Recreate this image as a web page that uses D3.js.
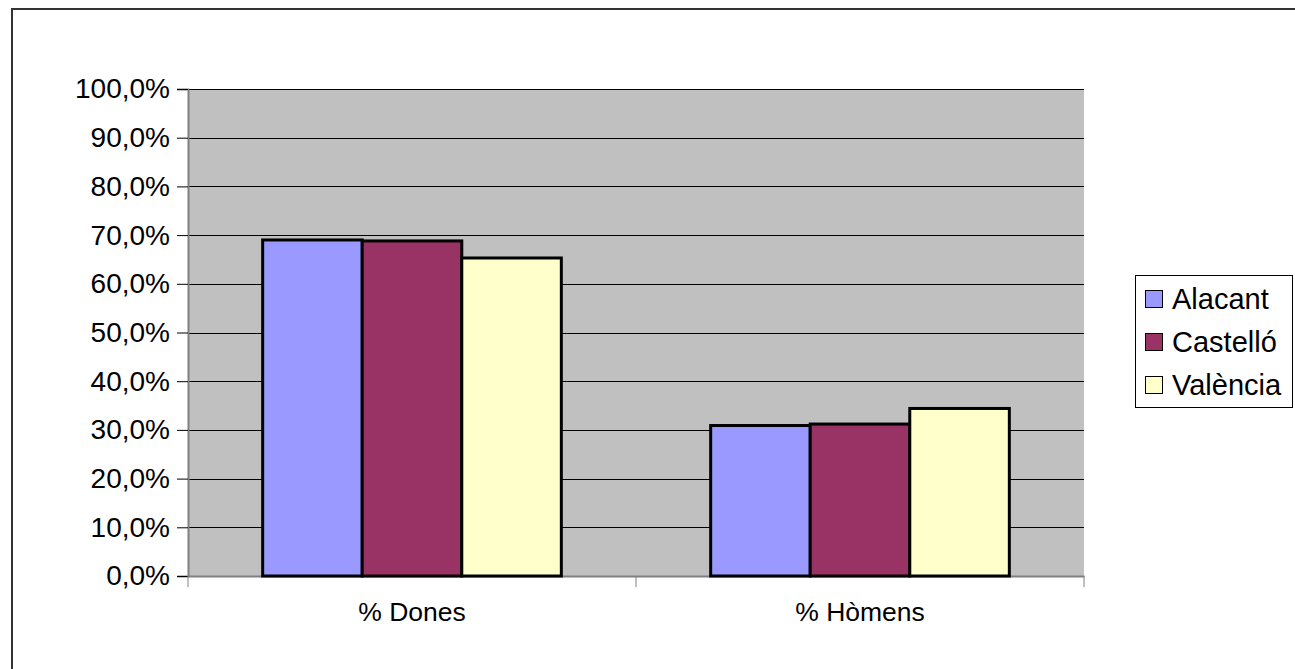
<!DOCTYPE html>
<html>
<head>
<meta charset="utf-8">
<script src="https://cdn.jsdelivr.net/npm/d3@7"></script>
<style>
	body { margin: 0; background: #fff; }
	svg { display: block; font-family: "Liberation Sans", Arial, sans-serif; }
</style>
</head>
<body>
<div id="chart"></div>
<script>
// data
const categories = ["% Dones", "% Hòmens"];
const seriesNames = ["Alacant", "Castelló", "València"];
const alacant = [0.690, 0.309];
const castello = [0.688, 0.312];
const valencia = [0.653, 0.344];
const yTicks = [0, 0.1, 0.2, 0.3, 0.4, 0.5, 0.6, 0.7, 0.8, 0.9, 1.0];
const colors = ["#9999FF", "#993366", "#FFFFCC"];

const seriesValues = [alacant, castello, valencia];

const W = 1295, H = 669;
const margin = { top: 89, right: 211, bottom: 93, left: 188 };
const width = W - margin.left - margin.right;
const height = H - margin.top - margin.bottom;

const svg = d3.select("#chart").append("svg")
	.attr("width", W)
	.attr("height", H);

// outer chart border
svg.append("rect")
	.attr("x", 12).attr("y", 9)
	.attr("width", W).attr("height", H)
	.attr("fill", "#fff")
	.attr("stroke", "#333")
	.attr("stroke-width", 2);

const g = svg.append("g")
	.attr("transform", "translate(" + margin.left + "," + margin.top + ")");

const x0 = d3.scaleBand().domain(categories).range([0, width]).paddingInner(0).paddingOuter(0);
const x1 = d3.scaleBand().domain(seriesNames).range([0, x0.bandwidth()]).paddingInner(0).paddingOuter(0.75);
const y = d3.scaleLinear().domain([0, 1]).range([height, 0]);

g.append("rect")
	.attr("width", width).attr("height", height)
	.attr("fill", "#C0C0C0");

// gridlines
g.append("g")
	.selectAll("line")
	.data(yTicks.slice(1))
	.join("line")
	.attr("x1", 0).attr("x2", width)
	.attr("y1", d => Math.round(y(d)) + 0.5)
	.attr("y2", d => Math.round(y(d)) + 0.5)
	.attr("stroke", "#000")
	.attr("stroke-width", 1);

// y axis
const fmt = d => d3.format(".1f")(d * 100).replace(".", ",") + "%";
const yAxis = g.append("g")
	.call(d3.axisLeft(y).tickValues(yTicks).tickFormat(fmt).tickSize(11).tickPadding(7));
yAxis.select(".domain").attr("stroke", "#808080").attr("stroke-width", 2);
yAxis.selectAll(".tick line").attr("stroke", "#000");
yAxis.selectAll(".tick text")
	.attr("font-size", 28)
	.attr("fill", "#000");

// x axis
const xAxis = g.append("g")
	.attr("transform", "translate(0," + height + ")")
	.call(d3.axisBottom(x0).tickSize(0).tickPadding(26));
xAxis.select(".domain").attr("stroke", "#808080").attr("stroke-width", 2);
xAxis.selectAll(".tick text")
	.attr("font-size", 26.5)
	.attr("fill", "#000");
xAxis.selectAll(".boundary")
	.data([0, x0(categories[1]), width])
	.join("line")
	.attr("class", "boundary")
	.attr("x1", d => d).attr("x2", d => d)
	.attr("y1", 0).attr("y2", 11)
	.attr("stroke", "#808080")
	.attr("stroke-width", 1);

// bars
categories.forEach((cat, ci) => {
	const grp = g.append("g").attr("transform", "translate(" + x0(cat) + ",0)");
	seriesNames.forEach((s, si) => {
		const v = seriesValues[si][ci];
		grp.append("rect")
			.attr("x", x1(s))
			.attr("y", y(v))
			.attr("width", x1.bandwidth())
			.attr("height", height - y(v))
			.attr("fill", colors[si])
			.attr("stroke", "#000")
			.attr("stroke-width", 3);
	});
});

// legend
const legend = svg.append("g").attr("transform", "translate(1135,275)");
legend.append("rect")
	.attr("x", 0.5).attr("y", 0.5)
	.attr("width", 157).attr("height", 132)
	.attr("fill", "#fff")
	.attr("stroke", "#000")
	.attr("stroke-width", 1);
const item = legend.selectAll(".item")
	.data(seriesNames)
	.join("g")
	.attr("class", "item")
	.attr("transform", (d, i) => "translate(0," + (24 + i * 43) + ")");
item.append("rect")
	.attr("x", 10.5).attr("y", -8.5)
	.attr("width", 17).attr("height", 17)
	.attr("fill", (d, i) => colors[i])
	.attr("stroke", "#000")
	.attr("stroke-width", 1);
item.append("text")
	.attr("x", 37)
	.attr("dy", "0.35em")
	.attr("font-size", 29)
	.text(d => d);
</script>
</body>
</html>
